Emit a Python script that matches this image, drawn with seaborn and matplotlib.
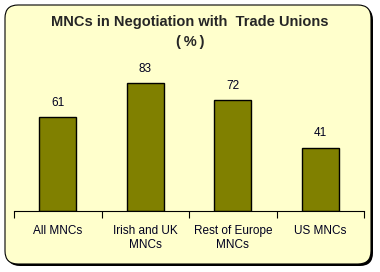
import matplotlib
matplotlib.use("Agg")
import matplotlib.pyplot as plt
import seaborn as sns
import pandas as pd
from matplotlib.patches import FancyBboxPatch

categories = ["All MNCs", "Irish and UK\nMNCs", "Rest of Europe\nMNCs", "US MNCs"]
values = [61, 83, 72, 41]

sns.set_style("white")
plt.rcParams['font.family'] = ['Liberation Sans', 'DejaVu Sans']

fig = plt.figure(figsize=(3.8, 2.72), dpi=100)
fig.patch.set_facecolor("white")

# shadow and rounded frame (inch coordinates, 100 px per inch)
shadow = FancyBboxPatch((0.07, 0.06), 3.66, 2.59,
                        boxstyle="round,pad=0,rounding_size=0.13",
                        transform=fig.dpi_scale_trans, facecolor="black",
                        edgecolor="none", zorder=-2)
frame = FancyBboxPatch((0.05, 0.08), 3.66, 2.59,
                       boxstyle="round,pad=0,rounding_size=0.13",
                       transform=fig.dpi_scale_trans, facecolor="#FFFFCC",
                       edgecolor="black", linewidth=0.8, zorder=-1)
fig.patches.extend([shadow, frame])

ax = fig.add_axes([14/380, 61/272, 350/380, 154/272])
ax.set_zorder(1)
ax.set_facecolor("none")
ax.patch.set_alpha(0)
df = pd.DataFrame({"cat": categories, "val": values})
sns.barplot(data=df, x="cat", y="val", ax=ax, color="#808000",
            edgecolor="black", linewidth=1.0, width=0.42, saturation=1)
ax.set_ylim(0, 100)
ax.set_xlim(-0.5, 3.5)
for s in ["left", "right", "top"]:
    ax.spines[s].set_visible(False)
ax.spines["bottom"].set_color("black")
ax.spines["bottom"].set_linewidth(0.8)
ax.set_yticks([])
ax.set_xlabel("")
ax.set_ylabel("")
ax.set_xticks(range(4))
ax.set_xticklabels(categories, fontsize=8.5, color="#000020")
ax.tick_params(axis="x", which="major", length=0, pad=10)
ax.set_xticks([-0.5, 0.5, 1.5, 2.5, 3.5], minor=True)
ax.tick_params(axis="x", which="minor", length=5, width=0.8, color="black", bottom=True)
for i, v in enumerate(values):
    ax.text(i, v + 5.5, str(v), ha="center", va="bottom", fontsize=8.5, color="#000020")

fig.text(190/380, 1 - 22/272, "MNCs in Negotiation with  Trade Unions",
         ha="center", va="center", fontsize=10.5, fontweight="bold")
fig.text(190/380, 1 - 42/272, "(\u2009%\u2009)", ha="center", va="center",
         fontsize=10.5, fontweight="bold")

fig.savefig("out.png", dpi=100, facecolor="white")
